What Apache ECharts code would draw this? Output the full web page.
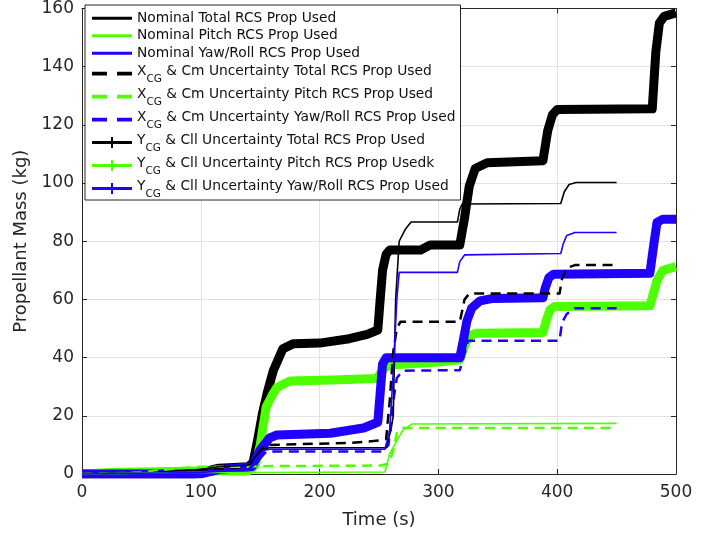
<!DOCTYPE html>
<html>
<head>
<meta charset="utf-8">
<script src="https://cdn.jsdelivr.net/npm/echarts@6/dist/echarts.min.js"></script>
<style>
  html, body { margin: 0; padding: 0; background: #fff; }
  #chart { width: 721px; height: 535px; }
</style>
</head>
<body>
<div id="chart"></div>
<script>
// values: time (s) and propellant mass (kg)
const nomTotalT = [0, 60, 100, 115, 140, 146, 152, 158, 256, 260, 262, 264, 267, 272, 277, 316, 318, 320, 403, 406, 410, 416, 450];
const nomTotalV = [0, 0.5, 1.5, 2.5, 3, 6, 8.5, 9, 9, 15, 20, 60, 80, 84, 86.6, 86.6, 91, 92.8, 93, 97, 99.5, 100.2, 100.2];
const nomPitchT = [0, 40, 80, 150, 255, 259, 265, 270, 278, 450];
const nomPitchV = [0, 0.2, 0.5, 0.5, 0.7, 7, 11.5, 15, 17.2, 17.4];
const nomYawT = [0, 100, 140, 146, 152, 158, 255, 259, 262, 265, 267, 316, 318, 322, 403, 405, 408, 415, 450];
const nomYawV = [0, 0.5, 1.5, 5, 8, 8.5, 8.5, 15, 35, 60, 69.3, 69.3, 73, 75.3, 75.8, 79, 82, 83, 83];

const xcgTotalT = [0, 60, 100, 140, 146, 152, 158, 226, 250, 256, 259, 262, 265, 268, 318, 320, 322, 326, 402, 404, 408, 415, 450];
const xcgTotalV = [0, 0.5, 1.5, 2.5, 6, 9, 10, 10.7, 11.5, 12, 25, 42, 50, 52.3, 52.3, 56, 60, 62, 62, 67, 70.8, 71.8, 71.8];
const xcgPitchT = [0, 50, 70, 100, 140, 150, 251, 258, 262, 265, 270, 450];
const xcgPitchV = [0, 0.5, 1.5, 2.5, 2.5, 2.7, 2.9, 3.5, 8, 14, 15.8, 15.8];
const xcgYawT = [0, 100, 140, 147, 155, 253, 258, 262, 265, 270, 318, 321, 325, 402, 404, 408, 415, 450];
const xcgYawV = [0, 0.5, 1.5, 4, 7.7, 7.7, 10, 25, 33, 35.5, 35.7, 40, 45.8, 45.8, 52, 55, 57, 57];

const ycgTotalT = [0, 95, 105, 115, 140, 144, 148, 152, 156, 161, 169, 178, 200, 225, 240, 249, 251, 253, 256, 259, 285, 293, 318, 322, 326, 331, 341, 388, 392, 396, 400, 480, 483, 486, 490, 500];
const ycgTotalV = [0, 0, 1, 2, 2.5, 4, 12, 21, 28, 35.5, 43, 44.8, 45, 46.5, 48, 49.5, 60, 70, 75.5, 77, 77, 78.7, 78.7, 88, 99, 105, 107, 107.7, 118, 123.5, 125.3, 125.5, 145, 155, 157.3, 158.5];
const ycgPitchT = [0, 25, 100, 140, 146, 150, 155, 160, 164, 175, 210, 248, 251, 255, 259, 300, 318, 322, 326, 332, 388, 391, 394, 398, 478, 481, 484, 489, 500];
const ycgPitchV = [0, 0.5, 1, 1, 3, 10, 23, 27, 29.7, 32, 32.3, 32.8, 34.5, 36.5, 37.5, 38.5, 39.3, 44, 47.5, 48.4, 48.6, 53, 56.5, 57.6, 57.8, 62, 66.5, 70, 71.3];
const ycgYawT = [0, 100, 115, 143, 146, 150, 158, 164, 209, 237, 249, 251, 253, 256, 318, 321, 324, 328, 335, 345, 388, 390, 393, 397, 478, 481, 484, 489, 500];
const ycgYawV = [0, 0, 1.5, 2.5, 5, 8.3, 12.4, 13.4, 14, 15.8, 17.8, 28, 37.8, 40, 40, 46, 52.6, 57, 59.5, 60.3, 60.6, 64, 67.5, 68.7, 69, 78, 86.5, 87.6, 87.6];

const seriesNames = [
  'Nominal Total RCS Prop Used',
  'Nominal Pitch RCS Prop Used',
  'Nominal Yaw/Roll RCS Prop Used',
  'XCG & Cm Uncertainty Total RCS Prop Used',
  'XCG & Cm Uncertainty Pitch RCS Prop Used',
  'XCG & Cm Uncertainty Yaw/Roll RCS Prop Used',
  'YCG & Cll Uncertainty Total RCS Prop Used',
  'YCG & Cll Uncertainty Pitch RCS Prop Usedk',
  'YCG & Cll Uncertainty Yaw/Roll RCS Prop Used'
];

const BLACK = '#000000';
const GREEN = '#4dff00';
const BLUE = '#2000ff';
const AXIS = '#262626';
const FONT = 'DejaVu Sans';

const pairs = (T, V) => T.map((t, i) => [t, V[i]]);

const mkLine = (name, T, V, color, width, dash) => ({
  name,
  type: 'line',
  data: pairs(T, V),
  symbol: 'none',
  showSymbol: false,
  animation: false,
  lineStyle: { color, width, type: dash || 'solid', join: 'round', cap: 'butt' },
  itemStyle: { color },
});

// thick ones first so thin/dashed curves stay visible on top
const series = [
  mkLine(seriesNames[6], ycgTotalT, ycgTotalV, BLACK, 9),
  mkLine(seriesNames[7], ycgPitchT, ycgPitchV, GREEN, 9),
  mkLine(seriesNames[8], ycgYawT, ycgYawV, BLUE, 9),
  mkLine(seriesNames[3], xcgTotalT, xcgTotalV, BLACK, 2.5, [10, 6.5]),
  mkLine(seriesNames[4], xcgPitchT, xcgPitchV, GREEN, 2.5, [10, 6.5]),
  mkLine(seriesNames[5], xcgYawT, xcgYawV, BLUE, 2.5, [10, 6.5]),
  mkLine(seriesNames[0], nomTotalT, nomTotalV, BLACK, 1.6),
  mkLine(seriesNames[1], nomPitchT, nomPitchV, GREEN, 1.6),
  mkLine(seriesNames[2], nomYawT, nomYawV, BLUE, 1.6),
];

// legend icons
const ICON_SOLID = 'path://M0,0 L40,0 L40,3 L0,3 Z';
const ICON_DASH = 'path://M0,0 L12,0 L12,3 L0,3 Z M20,0 L32,0 L32,3 L20,3 Z';
const ICON_PLUS = 'path://M0,4 L40,4 L40,7 L0,7 Z M19,0 L21,0 L21,11 L19,11 Z';
const legendColors = [BLACK, GREEN, BLUE, BLACK, GREEN, BLUE, BLACK, GREEN, BLUE];
const legendIcons = [ICON_SOLID, ICON_SOLID, ICON_SOLID, ICON_DASH, ICON_DASH, ICON_DASH, ICON_PLUS, ICON_PLUS, ICON_PLUS];

const chart = echarts.init(document.getElementById('chart'));

const axisCommon = {
  axisLine: { show: true, onZero: false, lineStyle: { color: AXIS, width: 1 } },
  axisTick: { show: true, inside: true, length: 5, lineStyle: { color: AXIS } },
};

chart.setOption({
  animation: false,
  backgroundColor: '#ffffff',
  grid: { left: 82, right: 45, top: 5, bottom: 61 },
  xAxis: [
    {
      type: 'value', min: 0, max: 500, interval: 100, position: 'bottom',
      name: 'Time (s)', nameLocation: 'middle', nameGap: 37,
      nameTextStyle: { fontFamily: FONT, fontSize: 18, color: AXIS },
      ...axisCommon,
      axisLabel: { fontFamily: FONT, fontSize: 17, color: AXIS, margin: 10 },
      splitLine: { show: true, lineStyle: { color: '#e2e2e2', width: 1 } },
    },
    {
      type: 'value', min: 0, max: 500, interval: 100, position: 'top',
      ...axisCommon,
      axisLabel: { show: false },
      splitLine: { show: false },
    },
  ],
  yAxis: [
    {
      type: 'value', min: 0, max: 160, interval: 20, position: 'left',
      name: 'Propellant Mass (kg)', nameLocation: 'middle', nameGap: 46,
      nameTextStyle: { fontFamily: FONT, fontSize: 18, color: AXIS },
      ...axisCommon,
      axisLabel: { fontFamily: FONT, fontSize: 17, color: AXIS, margin: 8 },
      splitLine: { show: true, lineStyle: { color: '#e2e2e2', width: 1 } },
    },
    {
      type: 'value', min: 0, max: 160, interval: 20, position: 'right',
      ...axisCommon,
      axisLabel: { show: false },
      splitLine: { show: false },
    },
  ],
  legend: {
    orient: 'vertical',
    left: 85,
    top: 5,
    padding: [4.5, 5, 0, 7],
    itemWidth: 40,
    itemHeight: 11,
    itemGap: 0,
    selectedMode: false,
    backgroundColor: '#ffffff',
    borderColor: AXIS,
    borderWidth: 1,
    borderRadius: 0,
    data: seriesNames.map((name, i) => ({
      name,
      icon: legendIcons[i],
      itemStyle: { color: legendColors[i], borderWidth: 0 },
    })),
    formatter: (name) => {
      if (name.startsWith('XCG') || name.startsWith('YCG')) {
        return `{n|${name[0]}}{s|CG}{n|${name.slice(3)}}`;
      }
      return `{p|${name}}`;
    },
    textStyle: {
      fontFamily: FONT,
      fontSize: 13.8,
      color: '#111111',
      rich: {
        p: { fontFamily: FONT, fontSize: 13.8, color: '#111111', height: 17.5, lineHeight: 17.5 },
        n: { fontFamily: FONT, fontSize: 13.8, color: '#111111', lineHeight: 23, verticalAlign: 'top', padding: [2, 0, 0, 0] },
        s: { fontFamily: FONT, fontSize: 10.5, color: '#111111', verticalAlign: 'bottom' },
      },
    },
  },
  series,
});
</script>
</body>
</html>
